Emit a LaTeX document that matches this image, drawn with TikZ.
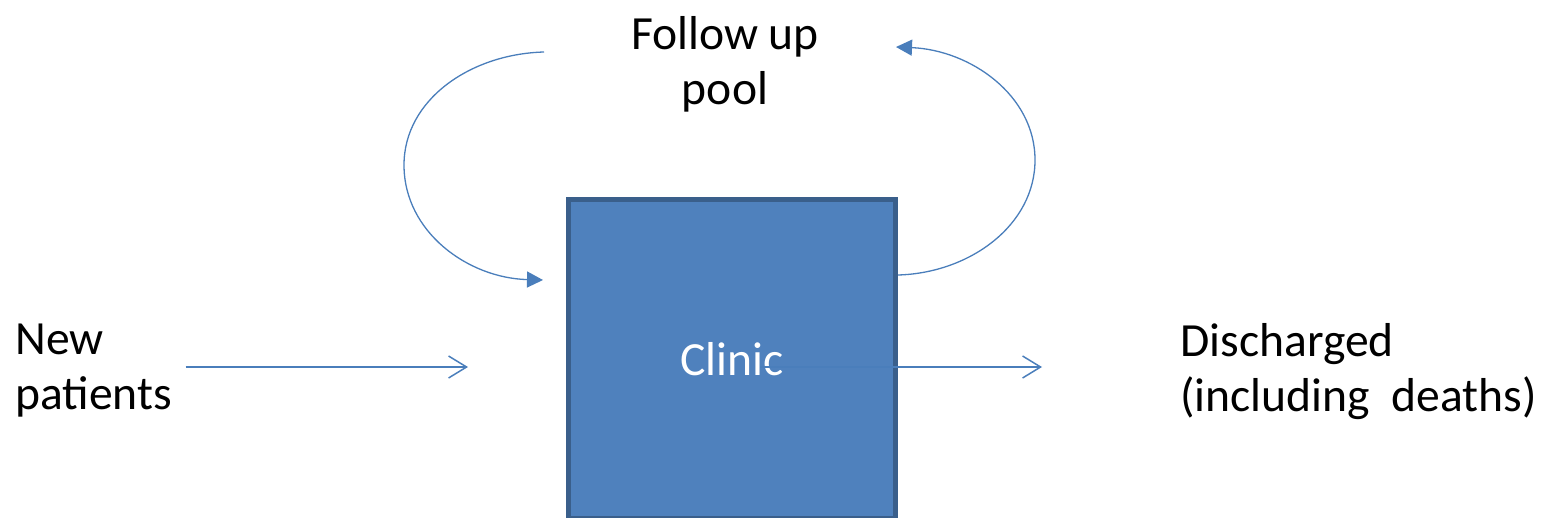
\documentclass[tikz,border=0pt]{standalone}
\usepackage{fontspec}
\setmainfont{Carlito}
\usetikzlibrary{positioning}
\usetikzlibrary{arrows.meta}
\definecolor{flowblue}{HTML}{4A7EBB}
\definecolor{boxfill}{HTML}{4F81BD}
\definecolor{boxedge}{HTML}{3A5F8B}
\tikzset{>=Stealth}
\tikzstyle{line} = [draw=flowblue, line width=0.75pt, -{Straight Barb[length=9pt,width=11pt]}]
\tikzstyle{loopline} = [draw=flowblue, line width=0.65pt, -{Triangle[length=8pt,width=8pt]}]

\begin{document}
\begin{tikzpicture}[x=0.5pt, y=-0.5pt,
		every node/.style={font=\fontsize{23.8}{27.5}\selectfont},
		box/.style={draw=boxedge, fill=boxfill, line width=2.5pt,
			minimum width=163.5pt, minimum height=159pt, text=white, inner sep=0pt},
		lbl/.style={align=left, inner sep=0pt}]
		\useasboundingbox (0,0) rectangle (1550,518);
		%% States
		\node [box] at (732,359) (clinic) {Clinic};
		\node [lbl, anchor=north west] at (15,324) (newpat) {New\\patients};
		\node [lbl, anchor=north west] at (1180,323) (disch) {Discharged\\(including\ \ deaths)};
		\node [lbl, align=center, anchor=north] at (725,16) (pool) {Follow up\\pool};
		%% Flows
		\coordinate (instart) at ([yshift=2pt]newpat.east);
		\path [line, shorten <=6.5pt, shorten >=49pt] (instart) -- (instart -| clinic.west);
		\coordinate (outstart) at (760,367);
		\path [line, shorten >=69pt] (outstart) -- (outstart -| disch.west);
		\coordinate (poolout) at (544,52);
		\coordinate (clinicin) at (543,280);
		\coordinate (poolin) at (896,47);
		\path [loopline] (poolout) .. controls (470,54) and (404,100) .. (404,165)
			.. controls (404,232) and (468,278) .. (clinicin);
		\path [loopline] ([yshift=42pt]clinic.east) .. controls (970,273) and (1035,225) .. (1035,160)
			.. controls (1035,95) and (970,50) .. (poolin);
	\end{tikzpicture}
\end{document}
